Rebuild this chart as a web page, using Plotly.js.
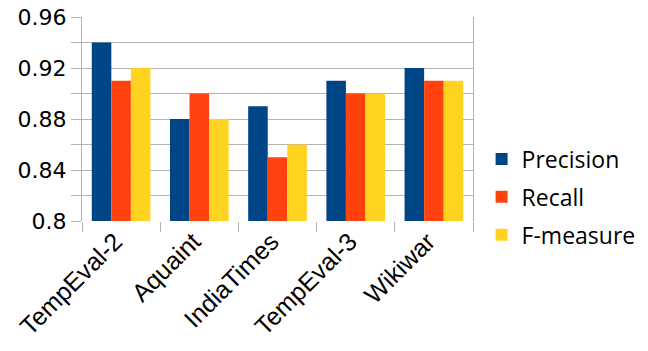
<!DOCTYPE html>
<html><head><meta charset="utf-8">
<script src="https://cdn.plot.ly/plotly-3.0.1.min.js"></script>
<style>html,body{margin:0;padding:0;background:#fff}#c{width:648px;height:351px}</style>
</head><body><div id="c"></div>
<script>
const categories = ["TempEval-2", "Aquaint", "IndiaTimes", "TempEval-3", "Wikiwar"];
const precision = [0.94, 0.88, 0.89, 0.91, 0.92];
const recall = [0.91, 0.90, 0.85, 0.90, 0.91];
const fmeasure = [0.92, 0.88, 0.86, 0.90, 0.91];
const seriesNames = ["Precision", "Recall", "F-measure"];
const colors = ["#004586", "#ff420e", "#ffd320"];
const yTickVals = [0.8, 0.84, 0.88, 0.92, 0.96];
const yTickText = ["0.8", "0.84", "0.88", "0.92", "0.96"];

const vals = [precision, recall, fmeasure];
const data = vals.map((v, i) => ({
  type: "bar", x: categories, y: v, name: seriesNames[i],
  marker: {color: colors[i], line: {width: 0}},
  legendgroup: "g" + i
}));

const layout = {
  width: 648, height: 351,
  margin: {l: 82, r: 175, t: 17, b: 130, autoexpand: false},
  paper_bgcolor: "#fff", plot_bgcolor: "#fff",
  barmode: "group", bargap: 0.25, bargroupgap: 0,
  font: {family: "DejaVu Sans", color: "#000"},
  xaxis: {
    type: "category", tickson: "boundaries", ticks: "outside", ticklen: 10,
    tickcolor: "#b3b3b3", tickwidth: 1, tickangle: -45,
    tickfont: {family: "Liberation Sans", size: 25, color: "#000"},
    ticklabelshift: -6,
    showgrid: false, showline: false, zeroline: false
  },
  yaxis: {
    range: [0.8, 0.96], tickvals: yTickVals, ticktext: yTickText,
    ticks: "outside", ticklen: 10, tickcolor: "#b3b3b3", tickwidth: 1,
    tickfont: {family: "DejaVu Sans", size: 22, color: "#000"},
    showgrid: true, gridcolor: "#b3b3b3", gridwidth: 1,
    minor: {dtick: 0.02, tick0: 0.8, showgrid: true, gridcolor: "#b3b3b3", ticks: "outside", ticklen: 10, tickcolor: "#b3b3b3"},
    showline: true, linecolor: "#b3b3b3", linewidth: 1, mirror: true,
    zeroline: false
  },
  legend: {
    x: 1.022, y: 0.118, xanchor: "left", yanchor: "middle",
    font: {family: "Open Sans", size: 23, color: "#000"},
    tracegroupgap: 5, itemwidth: 30
  },
  showlegend: true
};
Plotly.newPlot("c", data, layout, {displayModeBar: false, staticPlot: true});
</script></body></html>
